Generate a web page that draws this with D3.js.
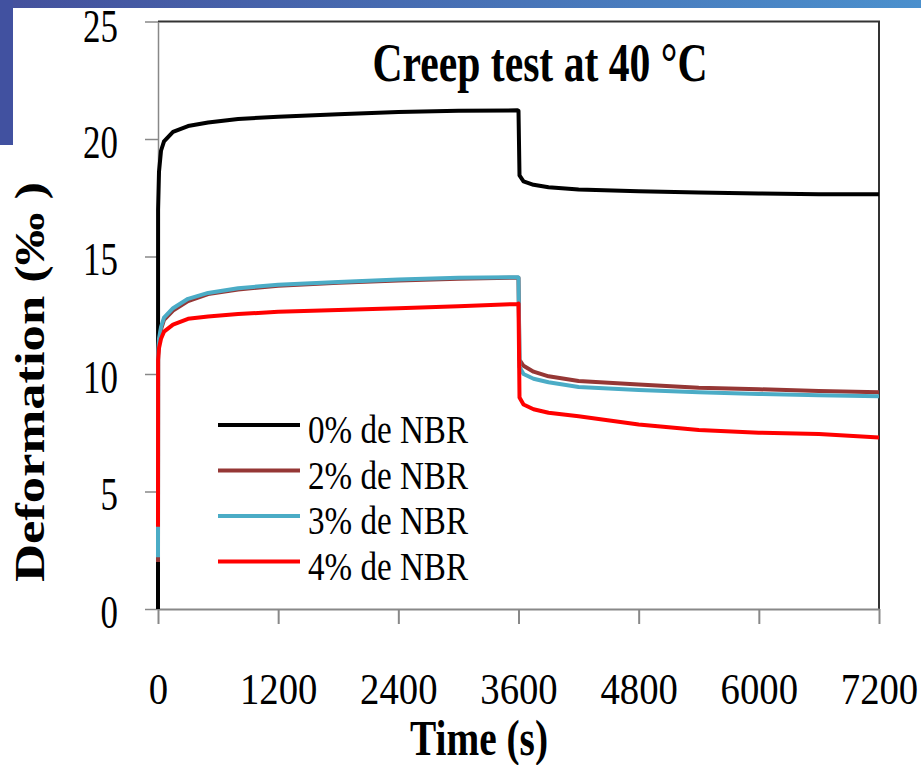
<!DOCTYPE html>
<html>
<head>
<meta charset="utf-8">
<script src="https://cdn.jsdelivr.net/npm/d3@7"></script>
<style>
  body { margin: 0; background: #fff; }
  svg { display: block; font-family: "Liberation Serif", "Times New Roman", serif; }
</style>
</head>
<body>
<div id="chart"></div>
<script>
// time (s) shared by all series
var times = [0, 1, 10, 30, 60, 150, 300, 500, 800, 1200, 1800, 2400, 3000, 3590, 3600,
             3610, 3650, 3750, 3900, 4200, 4800, 5400, 6000, 6600, 7200];

// deformation (per mille)
var nbr0 = [0, 17.0, 18.6, 19.5, 19.9, 20.3, 20.55, 20.7, 20.85, 20.95, 21.05, 21.15, 21.2, 21.22, 21.2,
            18.45, 18.2, 18.05, 17.95, 17.85, 17.78, 17.72, 17.68, 17.65, 17.65];
var nbr2 = [2.0, 10.8, 11.4, 11.9, 12.3, 12.7, 13.1, 13.4, 13.6, 13.75, 13.88, 13.98, 14.05, 14.1, 14.1,
            10.6, 10.35, 10.1, 9.9, 9.7, 9.55, 9.42, 9.35, 9.28, 9.22];
var nbr3 = [2.2, 10.8, 11.5, 12.0, 12.4, 12.8, 13.2, 13.45, 13.65, 13.8, 13.92, 14.02, 14.1, 14.12, 14.1,
            10.3, 10.0, 9.8, 9.65, 9.45, 9.32, 9.22, 9.15, 9.1, 9.05];
var nbr4 = [3.5, 10.6, 11.1, 11.5, 11.8, 12.1, 12.35, 12.45, 12.55, 12.65, 12.72, 12.8, 12.88, 12.98, 13.0,
            9.0, 8.7, 8.5, 8.35, 8.2, 7.85, 7.62, 7.5, 7.45, 7.3];

var seriesNames = ['0% de NBR', '2% de NBR', '3% de NBR', '4% de NBR'];
var seriesColors = ['#000000', '#953735', '#4bacc6', '#ff0000'];
var xTicks = [0, 1200, 2400, 3600, 4800, 6000, 7200];
var yTicks = [0, 5, 10, 15, 20, 25];

var width = 921, height = 765;
var svg = d3.select('#chart').append('svg')
    .attr('width', width)
    .attr('height', height);

// slide decoration
var grad = svg.append('defs').append('linearGradient')
    .attr('id', 'band').attr('x1', '0%').attr('x2', '100%');
grad.append('stop').attr('offset', '0%').attr('stop-color', '#44509c');
grad.append('stop').attr('offset', '100%').attr('stop-color', '#4b90cd');
svg.append('rect').attr('x', 0).attr('y', 0).attr('width', width).attr('height', 8).attr('fill', 'url(#band)');
svg.append('rect').attr('x', 0).attr('y', 0).attr('width', 13).attr('height', 145).attr('fill', '#4151a0');

var x = d3.scaleLinear().domain([0, 7200]).range([158, 879]);
var y = d3.scaleLinear().domain([0, 25]).range([609, 21.5]);

// frame top/right
svg.append('path')
    .attr('d', 'M' + x(0) + ',' + y(25) + 'H' + x(7200) + 'V' + y(0))
    .attr('fill', 'none').attr('stroke', '#333').attr('stroke-width', 2);

var yAxis = svg.append('g')
    .attr('transform', 'translate(' + x(0) + ',0)')
    .call(d3.axisLeft(y).tickValues(yTicks).tickSize(13).tickSizeOuter(0));
yAxis.selectAll('path, line').attr('stroke', '#888').attr('stroke-width', 1.5);
yAxis.selectAll('text')
    .attr('x', null).attr('dy', null)
    .attr('transform', function (d) { return 'translate(-40,' + (d === 25 ? 20 : 18) + ') scale(0.76,1)'; })
    .attr('font-size', 46).attr('fill', '#000')
    .attr('font-family', '"Liberation Serif", serif');

var xAxis = svg.append('g')
    .attr('transform', 'translate(0,' + y(0) + ')')
    .call(d3.axisBottom(x).tickValues(xTicks).tickFormat(d3.format('d')).tickSize(15).tickSizeOuter(0));
xAxis.selectAll('path, line').attr('stroke', '#888').attr('stroke-width', 2);
xAxis.selectAll('text')
    .attr('y', 95).attr('dy', null)
    .attr('transform', 'scale(0.88,1)')
    .attr('font-size', 44).attr('fill', '#000')
    .attr('font-family', '"Liberation Serif", serif');

// curves
var allSeries = [nbr0, nbr2, nbr3, nbr4];
var line = d3.line()
    .x(function (d, i) { return x(times[i]); })
    .y(function (d) { return y(d); });

svg.selectAll('.curve')
    .data(allSeries)
    .enter()
    .append('path')
    .attr('class', 'curve')
    .attr('d', line)
    .attr('fill', 'none')
    .attr('stroke', function (d, i) { return seriesColors[i]; })
    .attr('stroke-width', 4)
    .attr('stroke-linejoin', 'round');

// titles
svg.append('text')
    .attr('x', 540).attr('y', 81)
    .attr('text-anchor', 'middle')
    .attr('font-size', 55).attr('font-weight', 'bold')
    .attr('textLength', 335).attr('lengthAdjust', 'spacingAndGlyphs')
    .text('Creep test at 40 °C');

svg.append('text')
    .attr('x', 479).attr('y', 755)
    .attr('text-anchor', 'middle')
    .attr('font-size', 50).attr('font-weight', 'bold')
    .attr('textLength', 138).attr('lengthAdjust', 'spacingAndGlyphs')
    .text('Time (s)');

svg.append('text')
    .attr('transform', 'translate(44,382) rotate(-90)')
    .attr('text-anchor', 'middle')
    .attr('font-size', 42).attr('font-weight', 'bold')
    .attr('textLength', 400).attr('lengthAdjust', 'spacingAndGlyphs')
    .text('Deformation (‰ )');

// legend
var legend = svg.selectAll('.legend')
    .data(seriesNames)
    .enter()
    .append('g')
    .attr('class', 'legend')
    .attr('transform', function (d, i) { return 'translate(218,' + (425 + i * 45.5) + ')'; });
legend.append('line')
    .attr('x1', 0).attr('x2', 82)
    .attr('stroke', function (d, i) { return seriesColors[i]; })
    .attr('stroke-width', 4);
legend.append('text')
    .attr('x', 90).attr('y', 18)
    .attr('font-size', 41)
    .attr('textLength', 160).attr('lengthAdjust', 'spacingAndGlyphs')
    .text(function (d) { return d; });
</script>
</body>
</html>
